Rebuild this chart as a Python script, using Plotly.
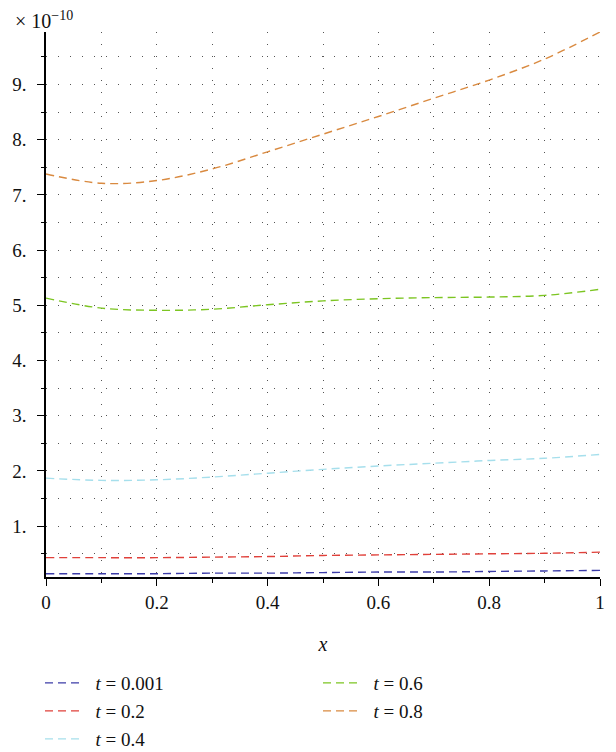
import plotly.graph_objects as go

# Sample positions along x
x = [0.0, 0.1, 0.2, 0.3, 0.4, 0.5, 0.6, 0.7, 0.8, 0.9, 1.0]

# Solution values (in units of 1e-10) for each time level
u_t0001 = [0.14, 0.14, 0.14, 0.15, 0.15, 0.16, 0.17, 0.17, 0.18, 0.19, 0.20]
u_t02 = [0.43, 0.43, 0.43, 0.44, 0.45, 0.47, 0.48, 0.49, 0.50, 0.51, 0.53]
u_t04 = [1.87, 1.83, 1.84, 1.89, 1.96, 2.03, 2.09, 2.14, 2.19, 2.23, 2.30]
u_t06 = [5.13, 4.95, 4.91, 4.93, 5.01, 5.08, 5.12, 5.14, 5.15, 5.18, 5.29]
u_t08 = [7.38, 7.21, 7.26, 7.47, 7.78, 8.10, 8.42, 8.75, 9.08, 9.46, 9.95]

labels = ["0.001", "0.2", "0.4", "0.6", "0.8"]
colors = ["#3c3ca8", "#e0403a", "#a6dfec", "#7cc522", "#d98a40"]
series = [u_t0001, u_t02, u_t04, u_t06, u_t08]

x_ticks = [0, 0.2, 0.4, 0.6, 0.8, 1.0]
x_ticktext = ["0", "0.2", "0.4", "0.6", "0.8", "1"]
y_ticks = [1, 2, 3, 4, 5, 6, 7, 8, 9]
y_ticktext = [f"{v}." for v in y_ticks]

FONT = "Liberation Serif"
TXT = "#111111"
NBSP = "\u00a0"

# plot area in pixels (for legend placement)
L, R, T, B = 46, 16, 32, 175
W, H = 616, 752
pw, ph = W - L - R, H - T - B

def px_to_paper_x(px):
    return (px - L) / pw

def px_to_paper_y(py):
    return (H - B - py) / ph

legend_pos = [(40, 683), (40, 711), (40, 739), (318, 683), (318, 711)]

fig = go.Figure()
for i, (lab, col, ys) in enumerate(zip(labels, colors, series)):
    lname = "legend" if i == 0 else f"legend{i + 1}"
    fig.add_trace(go.Scatter(
        x=x, y=ys, mode="lines", line_shape="spline",
        line=dict(color=col, width=1.4, dash="8px,5px"),
        name=f"{NBSP * 2}<i>t</i> = {lab}",
        legend=lname,
    ))

layout_legends = {}
for i, (lx, ly) in enumerate(legend_pos):
    key = "legend" if i == 0 else f"legend{i + 1}"
    layout_legends[key] = dict(
        x=px_to_paper_x(lx), y=px_to_paper_y(ly),
        xanchor="left", yanchor="middle",
        bgcolor="rgba(0,0,0,0)", borderwidth=0,
        font=dict(family=FONT, size=19, color=TXT),
        itemwidth=36,
    )

fig.update_layout(
    width=W, height=H,
    margin=dict(l=L, r=R, t=T, b=B, autoexpand=False),
    paper_bgcolor="white", plot_bgcolor="white",
    font=dict(family=FONT, size=19, color=TXT),
    showlegend=True,
    **layout_legends,
)

grid_style = dict(gridcolor="#555", gridwidth=1, griddash="1px,11px")

fig.update_xaxes(
    range=[0, 1], tickvals=x_ticks, ticktext=x_ticktext,
    showline=True, linecolor="black", linewidth=1.6,
    ticks="outside", ticklen=7, tickwidth=1.4, tickcolor="black",
    showgrid=True, **grid_style,
    minor=dict(dtick=0.1, tick0=0, ticks="outside", ticklen=4, tickwidth=1.2,
               tickcolor="black", showgrid=True, **grid_style),
    zeroline=False, automargin=False,
    tickfont=dict(family=FONT, size=19, color=TXT),
    title=dict(text="<i>x</i>", font=dict(family=FONT, size=20, color=TXT), standoff=25),
)

fig.update_yaxes(
    range=[0.08, 9.95], tickvals=y_ticks, ticktext=y_ticktext,
    showline=True, linecolor="black", linewidth=1.6,
    ticks="outside", ticklen=7, tickwidth=1.4, tickcolor="black",
    showgrid=True, **grid_style,
    minor=dict(dtick=0.5, tick0=0, ticks="outside", ticklen=3, tickwidth=1.2,
               tickcolor="black", showgrid=True, **grid_style),
    zeroline=False, automargin=False, ticklabelstandoff=7,
    tickfont=dict(family=FONT, size=19, color=TXT),
)

fig.add_annotation(
    text="× 10<sup>−10</sup>", xref="paper", yref="paper",
    x=px_to_paper_x(13), y=px_to_paper_y(20),
    xanchor="left", yanchor="middle", showarrow=False,
    font=dict(family=FONT, size=20, color=TXT),
)

fig.write_html("out.html")
